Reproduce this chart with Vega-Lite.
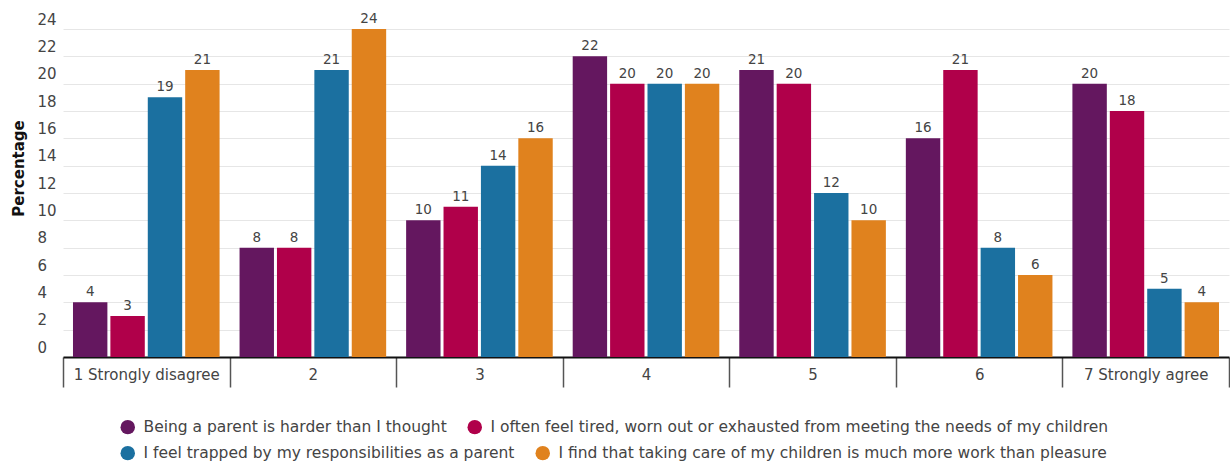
{
  "$schema": "https://vega.github.io/schema/vega-lite/v6.json",
  "width": 1193,
  "height": 328,
  "autosize": "none",
  "padding": {"left": 37, "top": 29, "right": 0, "bottom": 106},
  "background": "white",
  "config": {"view": {"stroke": null}, "font": "DejaVu Sans"},
  "data": {"values": [
    {"response": "1 Strongly disagree", "series": "Being a parent is harder than I thought", "value": 4},
    {"response": "1 Strongly disagree", "series": "I often feel tired, worn out or exhausted from meeting the needs of my children", "value": 3},
    {"response": "1 Strongly disagree", "series": "I feel trapped by my responsibilities as a parent", "value": 19},
    {"response": "1 Strongly disagree", "series": "I find that taking care of my children is much more work than pleasure", "value": 21},
    {"response": "2", "series": "Being a parent is harder than I thought", "value": 8},
    {"response": "2", "series": "I often feel tired, worn out or exhausted from meeting the needs of my children", "value": 8},
    {"response": "2", "series": "I feel trapped by my responsibilities as a parent", "value": 21},
    {"response": "2", "series": "I find that taking care of my children is much more work than pleasure", "value": 24},
    {"response": "3", "series": "Being a parent is harder than I thought", "value": 10},
    {"response": "3", "series": "I often feel tired, worn out or exhausted from meeting the needs of my children", "value": 11},
    {"response": "3", "series": "I feel trapped by my responsibilities as a parent", "value": 14},
    {"response": "3", "series": "I find that taking care of my children is much more work than pleasure", "value": 16},
    {"response": "4", "series": "Being a parent is harder than I thought", "value": 22},
    {"response": "4", "series": "I often feel tired, worn out or exhausted from meeting the needs of my children", "value": 20},
    {"response": "4", "series": "I feel trapped by my responsibilities as a parent", "value": 20},
    {"response": "4", "series": "I find that taking care of my children is much more work than pleasure", "value": 20},
    {"response": "5", "series": "Being a parent is harder than I thought", "value": 21},
    {"response": "5", "series": "I often feel tired, worn out or exhausted from meeting the needs of my children", "value": 20},
    {"response": "5", "series": "I feel trapped by my responsibilities as a parent", "value": 12},
    {"response": "5", "series": "I find that taking care of my children is much more work than pleasure", "value": 10},
    {"response": "6", "series": "Being a parent is harder than I thought", "value": 16},
    {"response": "6", "series": "I often feel tired, worn out or exhausted from meeting the needs of my children", "value": 21},
    {"response": "6", "series": "I feel trapped by my responsibilities as a parent", "value": 8},
    {"response": "6", "series": "I find that taking care of my children is much more work than pleasure", "value": 6},
    {"response": "7 Strongly agree", "series": "Being a parent is harder than I thought", "value": 20},
    {"response": "7 Strongly agree", "series": "I often feel tired, worn out or exhausted from meeting the needs of my children", "value": 18},
    {"response": "7 Strongly agree", "series": "I feel trapped by my responsibilities as a parent", "value": 5},
    {"response": "7 Strongly agree", "series": "I find that taking care of my children is much more work than pleasure", "value": 4}
  ]},
  "encoding": {
    "x": {
      "field": "response", "type": "nominal",
      "sort": ["1 Strongly disagree", "2", "3", "4", "5", "6", "7 Strongly agree"],
      "scale": {"range": [26, 1192], "paddingInner": 0, "paddingOuter": 0},
      "axis": {
        "title": null, "labelAngle": 0, "labelFontSize": 15, "labelColor": "#444444",
        "labelBaseline": "middle", "labelPadding": -13, "tickSize": 30, "tickBand": "extent",
        "tickColor": "#555555", "tickWidth": 1.5, "domainColor": "#111111", "domainWidth": 2
      }
    },
    "xOffset": {
      "field": "series", "type": "nominal",
      "sort": ["Being a parent is harder than I thought", "I often feel tired, worn out or exhausted from meeting the needs of my children", "I feel trapped by my responsibilities as a parent", "I find that taking care of my children is much more work than pleasure"],
      "scale": {"paddingInner": 0.08, "paddingOuter": 0.267}
    },
    "y": {
      "field": "value", "type": "quantitative",
      "scale": {"domain": [0, 24], "nice": false},
      "axis": {
        "title": "Percentage", "titleFontWeight": "bold", "titleFontSize": 15, "titleColor": "#111111",
        "titleX": -19, "titleY": 139, "titleAngle": -90, "titleBaseline": "middle",
        "values": [0, 2, 4, 6, 8, 10, 12, 14, 16, 18, 20, 22, 24],
        "grid": true, "gridColor": "#e6e6e6", "gridWidth": 1,
        "domain": false, "ticks": false, "tickSize": 0,
        "labelAlign": "left", "labelBaseline": "bottom", "labelPadding": 0, "labelOffset": -2,
        "labelFontSize": 15, "labelColor": "#444444"
      }
    }
  },
  "layer": [
    {
      "transform": [{"filter": {"field": "series", "oneOf": ["Being a parent is harder than I thought", "I often feel tired, worn out or exhausted from meeting the needs of my children"]}}],
      "mark": {"type": "bar"},
      "encoding": {
        "color": {
          "field": "series", "type": "nominal",
          "scale": {
            "domain": ["Being a parent is harder than I thought", "I often feel tired, worn out or exhausted from meeting the needs of my children"],
            "range": ["#64175f", "#b0004a"]
          },
          "legend": {
            "title": null, "orient": "none", "legendX": 83, "legendY": 390,
            "direction": "horizontal", "columnPadding": 20,
            "symbolType": "circle", "symbolSize": 210, "symbolStrokeWidth": 0,
            "labelFontSize": 15.5, "labelColor": "#444444", "labelLimit": 800, "labelOffset": 8
          }
        }
      }
    },
    {
      "transform": [{"filter": {"field": "series", "oneOf": ["I feel trapped by my responsibilities as a parent", "I find that taking care of my children is much more work than pleasure"]}}],
      "mark": {"type": "bar"},
      "encoding": {
        "color": {
          "field": "series", "type": "nominal",
          "scale": {
            "domain": ["I feel trapped by my responsibilities as a parent", "I find that taking care of my children is much more work than pleasure"],
            "range": ["#1b70a0", "#e0821e"]
          },
          "legend": {
            "title": null, "orient": "none", "legendX": 83, "legendY": 416,
            "direction": "horizontal", "columnPadding": 20,
            "symbolType": "circle", "symbolSize": 210, "symbolStrokeWidth": 0,
            "labelFontSize": 15.5, "labelColor": "#444444", "labelLimit": 800, "labelOffset": 8
          }
        }
      }
    },
    {
      "mark": {"type": "text", "baseline": "bottom", "dy": -3, "fontSize": 13.5, "color": "#444444"},
      "encoding": {"text": {"field": "value", "type": "quantitative"}}
    }
  ],
  "resolve": {"scale": {"color": "independent"}, "legend": {"color": "independent"}}
}
